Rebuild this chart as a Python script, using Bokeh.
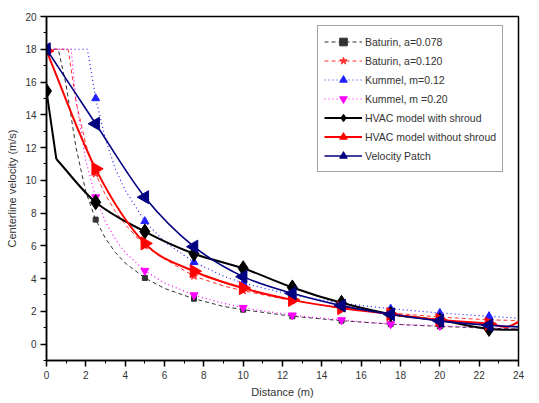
import numpy as np
from bokeh.plotting import figure
from bokeh.models import Range1d, SingleIntervalTicker
from bokeh.embed import file_html
from bokeh.resources import INLINE

# ---------------- data ----------------
marker_x_models = [2.5, 5, 7.5, 10, 12.5, 15, 17.5, 20, 22.5]
marker_x_hvac = [0, 2.5, 5, 7.5, 10, 12.5, 15, 17.5, 20, 22.5]

baturin078_x = [0, 0.6, 1.0, 1.5, 2.0, 2.5, 3.0, 3.5, 4.0, 5.0, 6.0, 7.5, 9.0, 10, 12.5, 15, 17.5, 20, 22.5, 24]
baturin078_v = [18, 18, 15.8, 12.0, 9.3, 7.6, 6.45, 5.6, 4.95, 4.04, 3.4, 2.77, 2.3, 2.1, 1.7, 1.43, 1.22, 1.08, 0.97, 0.92]

baturin120_x = [0, 1.1, 1.5, 2.0, 2.5, 3.0, 3.5, 4.0, 5.0, 6.0, 7.5, 9.0, 10, 12.5, 15, 17.5, 20, 22.5, 24]
baturin120_v = [18, 18, 14.8, 12.2, 10.4, 9.1, 8.1, 7.3, 6.0, 5.2, 4.15, 3.55, 3.26, 2.65, 2.2, 1.9, 1.65, 1.48, 1.44]

kummel012_x = [0, 2.08, 2.5, 3.0, 3.5, 4.0, 5.0, 6.0, 7.5, 9.0, 10, 12.5, 15, 17.5, 20, 22.5, 24]
kummel012_v = [18, 18, 15.0, 12.5, 10.7, 9.4, 7.5, 6.25, 5.0, 4.15, 3.72, 3.0, 2.5, 2.16, 1.9, 1.7, 1.58]

kummel020_x = [0, 1.25, 1.5, 2.0, 2.5, 3.0, 3.5, 4.0, 5.0, 6.0, 7.5, 9.0, 10, 12.5, 15, 17.5, 20, 22.5, 24]
kummel020_v = [18, 18, 14.9, 11.2, 8.97, 7.47, 6.4, 5.6, 4.48, 3.73, 2.99, 2.49, 2.22, 1.76, 1.47, 1.22, 1.12, 1.0, 0.94]

shroud_x = [0, 0.5, 2.5, 5, 7.5, 10, 12.5, 15, 17.5, 20, 22.5, 24]
shroud_v = [15.45, 11.3, 8.66, 6.87, 5.52, 4.63, 3.46, 2.52, 1.83, 1.45, 0.93, 0.87]

noshroud_x = [0, 2.5, 5, 7.5, 10, 12.5, 15, 17.5, 20, 22.5, 23.4, 24]
noshroud_v = [17.9, 10.7, 6.15, 4.45, 3.42, 2.7, 2.2, 1.83, 1.47, 1.24, 1.05, 1.35]

patch_x = [0, 2.5, 5, 7.5, 10, 12.5, 15, 17.5, 20, 22.5, 24]
patch_v = [18, 13.45, 8.97, 5.95, 4.12, 3.1, 2.35, 1.82, 1.42, 1.15, 1.05]

FONT = "Liberation Sans"
TXT = "#333333"

p = figure(width=539, height=403, output_backend="svg", toolbar_location=None,
           x_range=Range1d(0, 24), y_range=Range1d(-1, 20),
           min_border_left=46, min_border_right=21, min_border_top=16, min_border_bottom=43,
           background_fill_color="white", border_fill_color="white")
p.xgrid.visible = False
p.ygrid.visible = False
p.outline_line_color = "black"
p.outline_line_width = 1.5


def pick(xs, vs, keep):
    mx, mv = [], []
    for a, b in zip(xs, vs):
        if a in keep:
            mx.append(a)
            mv.append(b)
    return mx, mv


def spline_segments(xs, ys, corners=()):
    """Cubic Hermite (Bezier) segments through the data points (drawing style only)."""
    n = len(xs)
    chord = [(ys[i + 1] - ys[i]) / (xs[i + 1] - xs[i]) for i in range(n - 1)]
    m = []
    for i in range(n):
        if i == 0:
            m.append(chord[0])
        elif i == n - 1:
            m.append(chord[-1])
        else:
            m.append((ys[i + 1] - ys[i - 1]) / (xs[i + 1] - xs[i - 1]))
    seg = dict(x0=[], y0=[], x1=[], y1=[], cx0=[], cy0=[], cx1=[], cy1=[])
    for i in range(n - 1):
        h = xs[i + 1] - xs[i]
        ms = chord[i] if i in corners else m[i]
        me = chord[i] if (i + 1) in corners else m[i + 1]
        seg["x0"].append(xs[i]); seg["y0"].append(ys[i])
        seg["x1"].append(xs[i + 1]); seg["y1"].append(ys[i + 1])
        seg["cx0"].append(xs[i] + h / 3); seg["cy0"].append(ys[i] + ms * h / 3)
        seg["cx1"].append(xs[i + 1] - h / 3); seg["cy1"].append(ys[i + 1] - me * h / 3)
    return seg


series = [
    (baturin078_x, baturin078_v, "#333333", "4 3", 1.0, "square", 5, 0, "Baturin, a=0.078", marker_x_models, None),
    (baturin120_x, baturin120_v, "#ff3030", "4 3", 1.0, "star", 8, 0, "Baturin, a=0.120", marker_x_models, None),
    (kummel012_x, kummel012_v, "#2020ff", "1 3", 1.2, "triangle", 8, 0, "Kummel, m=0.12", marker_x_models, None),
    (kummel020_x, kummel020_v, "#ff00ff", "1 3", 1.2, "inverted_triangle", 8, 0, "Kummel, m =0.20", marker_x_models, None),
    (shroud_x, shroud_v, "black", "solid", 2.0, "diamond", 15, 0, "HVAC model with shroud", marker_x_hvac, (0, 1)),
    (noshroud_x, noshroud_v, "#ff0000", "solid", 2.0, "triangle", 13, -np.pi / 2, "HVAC model without shroud", marker_x_hvac, ()),
    (patch_x, patch_v, "#000080", "solid", 1.6, "triangle", 13, np.pi / 2, "Velocity Patch", marker_x_hvac, ()),
]

for xs, vs, col, dash, lw, mk, ms, ang, lab, keep, corners in series:
    if corners is None:
        p.line(xs, vs, line_color=col, line_dash=dash, line_width=lw, legend_label=lab)
    else:
        seg = spline_segments(xs, vs, corners)
        p.bezier(line_color=col, line_width=lw, legend_label=lab, **seg)
    mx, mv = pick(xs, vs, keep)
    p.scatter(mx, mv, marker=mk, size=ms, angle=ang, fill_color=col, line_color=col,
              legend_label=lab)

for ax in (p.xaxis[0], p.yaxis[0]):
    ax.axis_line_width = 1.5
    ax.axis_line_color = "black"
    ax.major_tick_line_color = "black"
    ax.minor_tick_line_color = "black"
    ax.major_tick_line_width = 1.5
    ax.minor_tick_line_width = 1
    ax.major_tick_out = 6
    ax.major_tick_in = 0
    ax.minor_tick_out = 3
    ax.minor_tick_in = 0
    ax.major_label_text_font = FONT
    ax.major_label_text_font_size = "10px"
    ax.major_label_text_color = TXT
    ax.axis_label_text_font = FONT
    ax.axis_label_text_font_size = "11px"
    ax.axis_label_text_font_style = "normal"
    ax.axis_label_text_color = TXT
    ax.major_label_standoff = 4
    ax.axis_label_standoff = 4

p.xaxis[0].ticker = SingleIntervalTicker(interval=2, num_minor_ticks=2)
p.yaxis[0].ticker = SingleIntervalTicker(interval=2, num_minor_ticks=2)
p.xaxis[0].axis_label = "Distance (m)"
p.yaxis[0].axis_label = "Centerline velocity (m/s)"

leg = p.legend[0]
leg.location = (271, 188)
leg.margin = 0
leg.padding = 6
leg.spacing = 0
leg.glyph_height = 19
leg.glyph_width = 38
leg.label_standoff = 3
leg.label_text_font = FONT
leg.label_text_font_size = "10.5px"
leg.label_text_color = TXT
leg.border_line_color = "#444444"
leg.border_line_width = 1
leg.background_fill_color = "white"
leg.background_fill_alpha = 1.0

open("out.html", "w").write(file_html(p, INLINE))
